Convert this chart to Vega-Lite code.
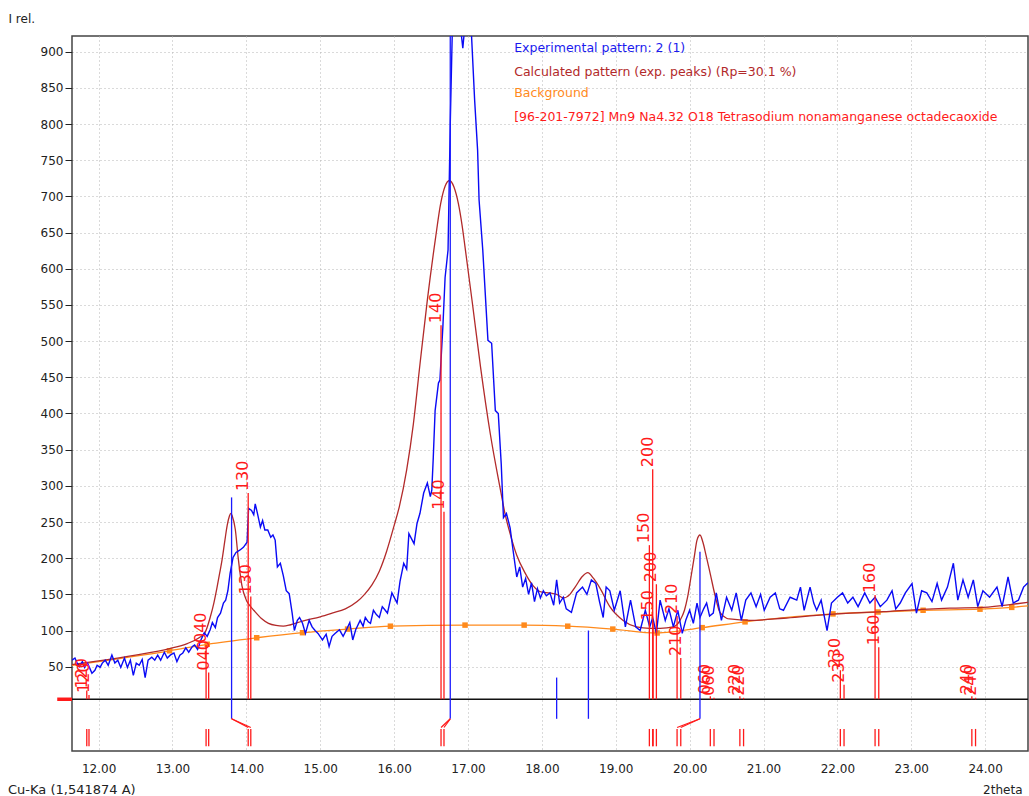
{
  "$schema": "https://vega.github.io/schema/vega-lite/v6.json",
  "width": 956,
  "height": 715,
  "autosize": {"type": "none"},
  "padding": {"left": 72, "top": 36, "right": 1, "bottom": 45},
  "background": "white",
  "config": {
    "view": {"stroke": "#444444", "strokeWidth": 1.5},
    "font": "DejaVu Sans",
    "axis": {"labelFont": "DejaVu Sans", "labelFontSize": 12, "labelColor": "#222222", "titleFont": "DejaVu Sans", "titleFontSize": 12, "titleFontWeight": "normal", "titleColor": "#222222", "gridColor": "#b4b4b4", "gridDash": [1, 3], "gridWidth": 1, "domain": false}
  },
  "title": {"text": "Cu-Ka (1,541874 A)", "orient": "bottom", "anchor": "start", "frame": "group", "dx": -64, "offset": -11, "fontSize": 13, "fontWeight": "normal", "color": "#222222", "font": "DejaVu Sans"},
  "datasets": {
    "exp": [
      {"t":11.64,"i":59},{"t":11.68,"i":62},{"t":11.71,"i":55},{"t":11.74,"i":50},{"t":11.78,"i":57},{"t":11.81,"i":49},{"t":11.85,"i":55},{"t":11.88,"i":48},{"t":11.91,"i":41},{"t":11.95,"i":45},{"t":11.98,"i":52},{"t":12.02,"i":49},{"t":12.05,"i":55},{"t":12.09,"i":59},{"t":12.13,"i":52},{"t":12.18,"i":66},{"t":12.22,"i":55},{"t":12.26,"i":59},{"t":12.30,"i":49},{"t":12.35,"i":62},{"t":12.39,"i":49},{"t":12.43,"i":59},{"t":12.47,"i":38},{"t":12.51,"i":55},{"t":12.55,"i":52},{"t":12.59,"i":60},{"t":12.63,"i":35},{"t":12.67,"i":59},{"t":12.72,"i":63},{"t":12.76,"i":59},{"t":12.80,"i":66},{"t":12.84,"i":59},{"t":12.89,"i":70},{"t":12.93,"i":62},{"t":12.97,"i":66},{"t":13.02,"i":69},{"t":13.06,"i":57},{"t":13.10,"i":66},{"t":13.14,"i":69},{"t":13.18,"i":76},{"t":13.22,"i":70},{"t":13.27,"i":78},{"t":13.30,"i":80},{"t":13.34,"i":74},{"t":13.38,"i":86},{"t":13.43,"i":97},{"t":13.47,"i":92},{"t":13.51,"i":101},{"t":13.54,"i":111},{"t":13.58,"i":104},{"t":13.61,"i":118},{"t":13.65,"i":124},{"t":13.69,"i":138},{"t":13.72,"i":142},{"t":13.75,"i":155},{"t":13.78,"i":179},{"t":13.82,"i":201},{"t":13.86,"i":208},{"t":13.91,"i":211},{"t":13.96,"i":215},{"t":14.01,"i":222},{"t":14.03,"i":269},{"t":14.07,"i":266},{"t":14.10,"i":260},{"t":14.12,"i":275},{"t":14.15,"i":262},{"t":14.19,"i":243},{"t":14.22,"i":252},{"t":14.25,"i":239},{"t":14.29,"i":239},{"t":14.33,"i":229},{"t":14.36,"i":232},{"t":14.39,"i":225},{"t":14.42,"i":188},{"t":14.46,"i":193},{"t":14.50,"i":176},{"t":14.54,"i":155},{"t":14.58,"i":151},{"t":14.62,"i":124},{"t":14.65,"i":100},{"t":14.69,"i":114},{"t":14.72,"i":118},{"t":14.76,"i":110},{"t":14.80,"i":96},{"t":14.85,"i":114},{"t":14.89,"i":105},{"t":14.93,"i":100},{"t":14.97,"i":96},{"t":15.03,"i":87},{"t":15.08,"i":95},{"t":15.12,"i":78},{"t":15.16,"i":92},{"t":15.20,"i":96},{"t":15.26,"i":101},{"t":15.31,"i":92},{"t":15.35,"i":100},{"t":15.40,"i":111},{"t":15.44,"i":87},{"t":15.48,"i":101},{"t":15.54,"i":114},{"t":15.58,"i":106},{"t":15.61,"i":118},{"t":15.65,"i":112},{"t":15.68,"i":110},{"t":15.72,"i":128},{"t":15.76,"i":122},{"t":15.80,"i":118},{"t":15.84,"i":133},{"t":15.88,"i":128},{"t":15.91,"i":124},{"t":15.97,"i":152},{"t":16.04,"i":138},{"t":16.08,"i":168},{"t":16.13,"i":193},{"t":16.17,"i":185},{"t":16.20,"i":234},{"t":16.24,"i":226},{"t":16.27,"i":220},{"t":16.31,"i":248},{"t":16.35,"i":262},{"t":16.40,"i":290},{"t":16.45,"i":304},{"t":16.49,"i":285},{"t":16.51,"i":294},{"t":16.53,"i":339},{"t":16.555,"i":404},{"t":16.60,"i":442},{"t":16.62,"i":446},{"t":16.66,"i":520},{"t":16.69,"i":588},{"t":16.73,"i":626},{"t":16.76,"i":800},{"t":16.79,"i":940},{"t":16.87,"i":960},{"t":16.93,"i":905},{"t":16.97,"i":950},{"t":17.03,"i":960},{"t":17.09,"i":833},{"t":17.13,"i":764},{"t":17.15,"i":695},{"t":17.20,"i":626},{"t":17.27,"i":501},{"t":17.32,"i":497},{"t":17.37,"i":404},{"t":17.41,"i":400},{"t":17.45,"i":330},{"t":17.48,"i":256},{"t":17.52,"i":262},{"t":17.57,"i":242},{"t":17.61,"i":211},{"t":17.66,"i":174},{"t":17.70,"i":188},{"t":17.74,"i":160},{"t":17.78,"i":172},{"t":17.82,"i":150},{"t":17.86,"i":166},{"t":17.90,"i":140},{"t":17.94,"i":158},{"t":17.98,"i":145},{"t":18.02,"i":155},{"t":18.06,"i":148},{"t":18.11,"i":152},{"t":18.16,"i":135},{"t":18.20,"i":170},{"t":18.24,"i":138},{"t":18.29,"i":146},{"t":18.33,"i":130},{"t":18.40,"i":125},{"t":18.47,"i":152},{"t":18.55,"i":160},{"t":18.61,"i":150},{"t":18.67,"i":170},{"t":18.73,"i":165},{"t":18.78,"i":140},{"t":18.83,"i":118},{"t":18.87,"i":160},{"t":18.92,"i":155},{"t":18.98,"i":128},{"t":19.06,"i":155},{"t":19.13,"i":105},{"t":19.20,"i":142},{"t":19.27,"i":105},{"t":19.33,"i":100},{"t":19.40,"i":128},{"t":19.46,"i":105},{"t":19.50,"i":118},{"t":19.55,"i":96},{"t":19.60,"i":142},{"t":19.67,"i":114},{"t":19.72,"i":130},{"t":19.78,"i":105},{"t":19.84,"i":128},{"t":19.90,"i":96},{"t":19.95,"i":115},{"t":20.00,"i":128},{"t":20.05,"i":110},{"t":20.10,"i":138},{"t":20.14,"i":118},{"t":20.19,"i":130},{"t":20.23,"i":138},{"t":20.27,"i":120},{"t":20.32,"i":124},{"t":20.36,"i":152},{"t":20.43,"i":114},{"t":20.50,"i":146},{"t":20.57,"i":128},{"t":20.63,"i":152},{"t":20.70,"i":114},{"t":20.76,"i":142},{"t":20.83,"i":152},{"t":20.90,"i":133},{"t":20.96,"i":150},{"t":21.01,"i":128},{"t":21.09,"i":146},{"t":21.16,"i":152},{"t":21.22,"i":130},{"t":21.27,"i":128},{"t":21.36,"i":146},{"t":21.45,"i":142},{"t":21.50,"i":160},{"t":21.55,"i":128},{"t":21.63,"i":160},{"t":21.68,"i":138},{"t":21.72,"i":128},{"t":21.78,"i":142},{"t":21.86,"i":100},{"t":21.92,"i":138},{"t":22.00,"i":146},{"t":22.07,"i":152},{"t":22.14,"i":138},{"t":22.21,"i":146},{"t":22.28,"i":133},{"t":22.37,"i":152},{"t":22.44,"i":138},{"t":22.51,"i":146},{"t":22.58,"i":133},{"t":22.67,"i":142},{"t":22.74,"i":155},{"t":22.79,"i":130},{"t":22.85,"i":138},{"t":22.92,"i":152},{"t":23.01,"i":165},{"t":23.07,"i":124},{"t":23.14,"i":155},{"t":23.21,"i":152},{"t":23.28,"i":140},{"t":23.35,"i":165},{"t":23.41,"i":142},{"t":23.49,"i":160},{"t":23.57,"i":193},{"t":23.63,"i":142},{"t":23.70,"i":170},{"t":23.77,"i":146},{"t":23.84,"i":170},{"t":23.90,"i":133},{"t":23.97,"i":155},{"t":24.06,"i":146},{"t":24.16,"i":160},{"t":24.23,"i":133},{"t":24.31,"i":174},{"t":24.38,"i":138},{"t":24.45,"i":142},{"t":24.52,"i":160},{"t":24.58,"i":166}
    ],
    "calc": [
      {"t":11.64,"i":53},{"t":12.0,"i":58},{"t":12.5,"i":66},{"t":12.96,"i":75},{"t":13.2,"i":82},{"t":13.36,"i":90},{"t":13.44,"i":97},{"t":13.51,"i":118},{"t":13.56,"i":138},{"t":13.60,"i":158},{"t":13.64,"i":180},{"t":13.67,"i":197},{"t":13.71,"i":225},{"t":13.74,"i":245},{"t":13.77,"i":258},{"t":13.79,"i":262},{"t":13.81,"i":258},{"t":13.85,"i":240},{"t":13.89,"i":200},{"t":13.94,"i":162},{"t":14.0,"i":142},{"t":14.05,"i":134},{"t":14.10,"i":128},{"t":14.20,"i":117},{"t":14.30,"i":110},{"t":14.40,"i":107},{"t":14.50,"i":106},{"t":14.60,"i":108},{"t":14.76,"i":113},{"t":15.0,"i":119},{"t":15.16,"i":124},{"t":15.34,"i":130},{"t":15.5,"i":140},{"t":15.6,"i":150},{"t":15.7,"i":163},{"t":15.8,"i":182},{"t":15.9,"i":210},{"t":16.0,"i":245},{"t":16.07,"i":271},{"t":16.17,"i":322},{"t":16.26,"i":385},{"t":16.35,"i":468},{"t":16.45,"i":557},{"t":16.56,"i":642},{"t":16.63,"i":690},{"t":16.69,"i":714},{"t":16.75,"i":722},{"t":16.81,"i":713},{"t":16.87,"i":690},{"t":16.92,"i":660},{"t":16.96,"i":630},{"t":17.06,"i":552},{"t":17.17,"i":464},{"t":17.30,"i":373},{"t":17.44,"i":294},{"t":17.50,"i":262},{"t":17.57,"i":234},{"t":17.66,"i":204},{"t":17.77,"i":180},{"t":17.88,"i":162},{"t":18.0,"i":153},{"t":18.11,"i":152},{"t":18.2,"i":150},{"t":18.29,"i":145},{"t":18.38,"i":150},{"t":18.45,"i":160},{"t":18.55,"i":175},{"t":18.62,"i":180},{"t":18.70,"i":172},{"t":18.79,"i":158},{"t":18.92,"i":133},{"t":19.10,"i":114},{"t":19.28,"i":105},{"t":19.46,"i":103},{"t":19.60,"i":103},{"t":19.78,"i":105},{"t":19.87,"i":114},{"t":19.93,"i":128},{"t":19.97,"i":145},{"t":20.02,"i":175},{"t":20.06,"i":200},{"t":20.10,"i":225},{"t":20.14,"i":232},{"t":20.18,"i":222},{"t":20.22,"i":205},{"t":20.28,"i":178},{"t":20.35,"i":146},{"t":20.41,"i":125},{"t":20.50,"i":117},{"t":20.54,"i":116},{"t":20.82,"i":114},{"t":21.27,"i":117},{"t":21.72,"i":121},{"t":22.17,"i":124},{"t":22.62,"i":126},{"t":23.07,"i":129},{"t":23.52,"i":131},{"t":23.97,"i":132},{"t":24.43,"i":137},{"t":24.58,"i":139}
    ],
    "bg": [
      {"t":11.64,"i":52,"m":false},{"t":12.96,"i":72,"m":true},{"t":13.47,"i":81,"m":true},{"t":14.14,"i":90,"m":true},{"t":14.76,"i":97,"m":true},{"t":15.37,"i":102,"m":true},{"t":15.95,"i":106,"m":true},{"t":16.96,"i":107.5,"m":true},{"t":17.76,"i":107.5,"m":true},{"t":18.35,"i":106,"m":true},{"t":18.96,"i":102,"m":true},{"t":19.56,"i":96.6,"m":true},{"t":20.17,"i":104,"m":true},{"t":20.75,"i":112,"m":true},{"t":21.94,"i":123,"m":true},{"t":22.55,"i":125.6,"m":true},{"t":23.16,"i":128,"m":true},{"t":23.93,"i":129.5,"m":true},{"t":24.36,"i":132,"m":true},{"t":24.58,"i":134,"m":false}
    ],
    "sticks": [
      {"t":11.84,"i":17,"hkl":"120"},{"t":11.87,"i":11,"hkl":"120"},
      {"t":13.455,"i":80,"hkl":"040"},{"t":13.49,"i":42,"hkl":"040"},
      {"t":14.025,"i":290,"hkl":"130"},{"t":14.06,"i":147,"hkl":"130"},
      {"t":16.635,"i":522,"hkl":"140"},{"t":16.675,"i":264,"hkl":"140"},
      {"t":19.455,"i":218,"hkl":"150"},{"t":19.505,"i":111,"hkl":"150"},
      {"t":19.50,"i":323,"hkl":"200"},{"t":19.55,"i":164,"hkl":"200"},
      {"t":19.83,"i":120,"hkl":"210"},{"t":19.88,"i":62,"hkl":"210"},
      {"t":20.28,"i":9,"hkl":"060"},{"t":20.33,"i":7,"hkl":"060"},
      {"t":20.68,"i":9,"hkl":"220"},{"t":20.73,"i":7,"hkl":"220"},
      {"t":22.04,"i":45,"hkl":"230"},{"t":22.09,"i":25,"hkl":"230"},
      {"t":22.51,"i":149,"hkl":"160"},{"t":22.56,"i":77,"hkl":"160"},
      {"t":23.82,"i":9,"hkl":"240"},{"t":23.87,"i":7,"hkl":"240"}
    ],
    "peaks": [
      {"t":13.80,"i":284},{"t":16.76,"i":921.7},{"t":18.20,"i":35},{"t":18.63,"i":100},{"t":20.14,"i":209}
    ],
    "links": [
      {"t":13.80,"t2":14.025},{"t":13.80,"t2":14.06},
      {"t":16.76,"t2":16.635},{"t":16.76,"t2":16.675},
      {"t":20.14,"t2":19.83},{"t":20.14,"t2":19.88}
    ],
    "legend": [
      {"t":17.625,"i":904.7,"series":"exp","label":"Experimental pattern: 2 (1)"},
      {"t":17.625,"i":872.4,"series":"calc","label":"Calculated pattern (exp. peaks) (Rp=30.1 %)"},
      {"t":17.625,"i":842.5,"series":"bg","label":"Background"},
      {"t":17.625,"i":810.2,"series":"phase","label":"[96-201-7972] Mn9 Na4.32 O18 Tetrasodium nonamanganese octadecaoxide"}
    ]
  },
  "layer": [
    {
      "data": {"name": "bg"},
      "mark": {"type": "line", "color": "#FF8A1C", "strokeWidth": 1.3, "interpolate": "monotone"},
      "encoding": {
        "x": {"field": "t", "type": "quantitative", "scale": {"domain": [11.64, 24.58], "nice": false, "zero": false},
          "axis": {"values": [12,13,14,15,16,17,18,19,20,21,22,23,24], "format": ".2f", "grid": true, "ticks": false, "labelPadding": 12, "title": "2theta", "titleX": 950, "titleY": 38, "titleAlign": "right", "titleBaseline": "middle"}},
        "y": {"field": "i", "type": "quantitative", "scale": {"domain": [-66.5, 921.7], "nice": false, "zero": false},
          "axis": {"values": [50,100,150,200,250,300,350,400,450,500,550,600,650,700,750,800,850,900], "grid": true, "tickSize": 7, "tickColor": "#222222", "labelPadding": 2, "title": "I rel.", "titleAngle": 0, "titleX": -64, "titleY": -18, "titleAlign": "left", "titleBaseline": "middle"}}
      }
    },
    {
      "data": {"name": "bg"},
      "transform": [{"filter": "datum.m"}],
      "mark": {"type": "square", "color": "#FF8A1C", "size": 30, "opacity": 1},
      "encoding": {
        "x": {"field": "t", "type": "quantitative", "title": "2theta"},
        "y": {"field": "i", "type": "quantitative", "title": "I rel."}
      }
    },
    {
      "data": {"name": "calc"},
      "mark": {"type": "line", "color": "#B22A2A", "strokeWidth": 1.3, "interpolate": "monotone"},
      "encoding": {
        "x": {"field": "t", "type": "quantitative", "title": "2theta"},
        "y": {"field": "i", "type": "quantitative", "title": "I rel."}
      }
    },
    {
      "data": {"name": "exp"},
      "mark": {"type": "line", "color": "#0A0AF5", "strokeWidth": 1.4, "clip": true},
      "encoding": {
        "x": {"field": "t", "type": "quantitative", "title": "2theta"},
        "y": {"field": "i", "type": "quantitative", "title": "I rel."}
      }
    },
    {
      "data": {"values": [{"y": 5}]},
      "mark": {"type": "rule", "color": "#111111", "strokeWidth": 1.3},
      "encoding": {"y": {"field": "y", "type": "quantitative", "title": "I rel."}}
    },
    {
      "data": {"values": [{"t": 11.44, "t2": 11.64, "y": 5}]},
      "mark": {"type": "rule", "color": "#FF1A1A", "strokeWidth": 3.5},
      "encoding": {
        "x": {"field": "t", "type": "quantitative", "title": "2theta"},
        "x2": {"field": "t2"},
        "y": {"field": "y", "type": "quantitative", "title": "I rel."}
      }
    },
    {
      "data": {"name": "sticks"},
      "mark": {"type": "rule", "color": "#FF1A1A", "strokeWidth": 1.3},
      "encoding": {
        "x": {"field": "t", "type": "quantitative", "title": "2theta"},
        "y": {"field": "i", "type": "quantitative", "title": "I rel."},
        "y2": {"datum": 5}
      }
    },
    {
      "data": {"name": "sticks"},
      "mark": {"type": "rule", "color": "#FF1A1A", "strokeWidth": 1.3},
      "encoding": {
        "x": {"field": "t", "type": "quantitative", "title": "2theta"},
        "y": {"datum": -36},
        "y2": {"datum": -60}
      }
    },
    {
      "data": {"name": "sticks"},
      "mark": {"type": "text", "color": "#FF1A1A", "font": "DejaVu Sans", "fontSize": 16, "angle": 270, "align": "left", "baseline": "alphabetic", "dx": 2},
      "encoding": {
        "x": {"field": "t", "type": "quantitative", "title": "2theta"},
        "y": {"field": "i", "type": "quantitative", "title": "I rel."},
        "text": {"field": "hkl"}
      }
    },
    {
      "data": {"name": "peaks"},
      "mark": {"type": "rule", "color": "#1A1AFF", "strokeWidth": 1.3, "clip": true},
      "encoding": {
        "x": {"field": "t", "type": "quantitative", "title": "2theta"},
        "y": {"field": "i", "type": "quantitative", "title": "I rel."},
        "y2": {"datum": -22}
      }
    },
    {
      "data": {"name": "links"},
      "mark": {"type": "rule", "color": "#FF1A1A", "strokeWidth": 1.2},
      "encoding": {
        "x": {"field": "t", "type": "quantitative", "title": "2theta"},
        "x2": {"field": "t2"},
        "y": {"datum": -22},
        "y2": {"datum": -34}
      }
    },
    {
      "data": {"name": "legend"},
      "mark": {"type": "text", "font": "DejaVu Sans", "fontSize": 12.5, "align": "left", "baseline": "middle"},
      "encoding": {
        "x": {"field": "t", "type": "quantitative", "title": "2theta"},
        "y": {"field": "i", "type": "quantitative", "title": "I rel."},
        "text": {"field": "label"},
        "color": {"field": "series", "type": "nominal", "scale": {"domain": ["exp", "calc", "bg", "phase"], "range": ["#1A1AEE", "#B22A2A", "#FF8A1C", "#FF1A1A"]}, "legend": null}
      }
    }
  ]
}
